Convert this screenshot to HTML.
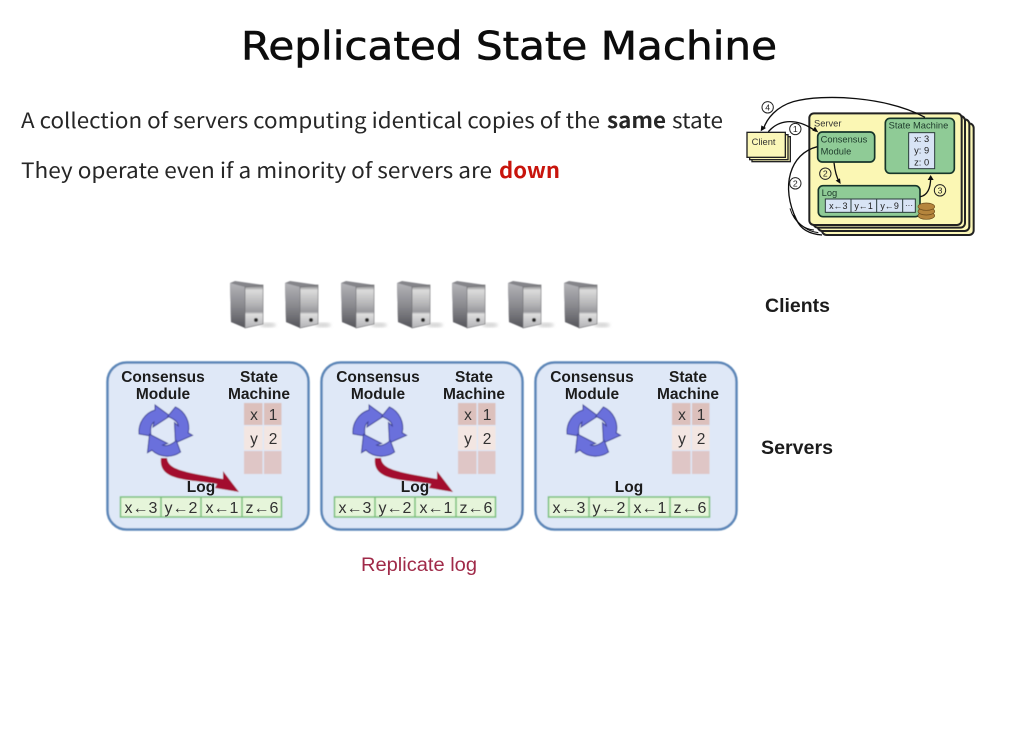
<!DOCTYPE html>
<html><head><meta charset="utf-8"><title>Replicated State Machine</title>
<style>html,body{margin:0;padding:0;background:#fff}svg{display:block}
.s{font-family:"Liberation Sans",sans-serif}
.b{font-family:"Liberation Sans",sans-serif;font-weight:bold;fill:#1c1c1c}
.d{font-family:"DejaVu Sans",sans-serif}
.o{font-family:"Noto Sans CJK JP","DejaVu Sans",sans-serif}</style></head>
<body>
<svg width="1024" height="747" viewBox="0 0 1024 747" xmlns="http://www.w3.org/2000/svg">
<defs>
<linearGradient id="sf" x1="0" y1="0" x2="0" y2="1"><stop offset="0" stop-color="#b4b4b8"/><stop offset=".5" stop-color="#8a8a8f"/><stop offset="1" stop-color="#55555a"/></linearGradient>
<linearGradient id="fr" x1="0" y1="0" x2="0" y2="1"><stop offset="0" stop-color="#6a6a6e"/><stop offset=".12" stop-color="#dcdcdc"/><stop offset=".45" stop-color="#b4b4b6"/><stop offset=".62" stop-color="#99999d"/><stop offset=".68" stop-color="#dedede"/><stop offset="1" stop-color="#b2b2b5"/></linearGradient>
<filter id="soft" x="-5%" y="-5%" width="110%" height="110%"><feGaussianBlur stdDeviation=".55"/></filter>
<filter id="lite" x="-5%" y="-5%" width="110%" height="110%"><feGaussianBlur stdDeviation=".3"/></filter>
<filter id="shad"><feGaussianBlur stdDeviation="1.5"/></filter>
<g id="srv">
<ellipse cx="38" cy="44" rx="8" ry="2.500" fill="#d4d4d4" filter="url(#shad)"/>
<path d="M0 2 L5 0 L33 4 L33 43 L16 47 L1 41Z" fill="#85858a"/>
<path d="M0 2 L15 6 L15 47 L1 41Z" fill="url(#sf)"/>
<path d="M15 6 L33 4 L33 43 L15 47Z" fill="url(#fr)" stroke="#6a6a6e" stroke-width=".6"/>
<circle cx="26" cy="39" r="2" fill="#2a2a2a"/>
</g>
<path id="arr" d="M-26 3 C-27 -8 -20 -18 -10 -21 L-10 -26 L5 -15 L-12 -4 L-11 -9 C-14 -7 -15 -2 -14 5Z" fill="#6a70dc" stroke="#3d4296" stroke-width="1"/>
<g id="cyc">
<use href="#arr"/><use href="#arr" transform="rotate(120)"/><use href="#arr" transform="rotate(240)"/>
</g>
<g id="panelbg">
<rect x="107.500" y="362.500" width="201" height="167" rx="19" fill="#dfe8f7" stroke="#5b86b8" stroke-width="2.500"/>
<rect x="244" y="403" width="18.500" height="22" fill="#dcc0bc"/><rect x="264" y="403" width="17.500" height="22" fill="#dcc0bc"/>
<rect x="244" y="426" width="18.500" height="24" fill="#f3e6e2"/><rect x="264" y="426" width="17.500" height="24" fill="#f3e6e2"/>
<rect x="244" y="451" width="18.500" height="23" fill="#dfc6c6"/><rect x="264" y="451" width="17.500" height="23" fill="#dfc6c6"/>
<rect x="120.500" y="497" width="161" height="20" fill="#e6f5da" stroke="#79c07a" stroke-width="1.500"/>
<path d="M161 497V517M201 497V517M242 497V517" stroke="#79c07a" stroke-width="1.500"/>
<use href="#cyc" transform="translate(165 431)"/>
</g>
<g id="red">
<path d="M161 458 L167 458 C168 470 185 472 223 479 L223 471 L239 492 L215 488 L217 484 C190 479 158 482 161 458Z" fill="#a30f2d"/>
</g>
</defs>

<text class="d" x="241" y="59.500" font-size="39" textLength="536" lengthAdjust="spacingAndGlyphs" fill="#0c0c0c" stroke="#0c0c0c" stroke-width=".6">Replicated State Machine</text>

<text class="o" x="21" y="128" font-size="21" textLength="579" lengthAdjust="spacingAndGlyphs" fill="#262626">A collection of servers computing identical copies of the</text>
<text class="o" x="607" y="128" font-size="21" font-weight="bold" textLength="59" lengthAdjust="spacingAndGlyphs" fill="#262626">same</text>
<text class="o" x="672" y="128" font-size="21" textLength="51" lengthAdjust="spacingAndGlyphs" fill="#262626">state</text>
<text class="o" x="21" y="178" font-size="21" textLength="471" lengthAdjust="spacingAndGlyphs" fill="#262626">They operate even if a minority of servers are</text>
<text class="o" x="499" y="178" font-size="21" font-weight="bold" textLength="61" lengthAdjust="spacingAndGlyphs" fill="#c8140c">down</text>

<!-- small diagram -->
<g transform="translate(740 90) scale(.33333)" filter="url(#soft)">
<rect x="246" y="100" width="455" height="335" rx="14" fill="#fbf7b8" stroke="#222" stroke-width="6"/>
<rect x="233" y="88" width="455" height="335" rx="14" fill="#fbf7b8" stroke="#222" stroke-width="6"/>
<rect x="220" y="78" width="455" height="335" rx="14" fill="#fbf7b8" stroke="#222" stroke-width="6"/>
<rect x="208" y="70" width="457" height="335" rx="14" fill="#fbf7b4" stroke="#222" stroke-width="6"/>
<rect x="36" y="140" width="115" height="75" fill="#fbf7b8" stroke="#222" stroke-width="4"/>
<rect x="29" y="134" width="115" height="75" fill="#fbf7b8" stroke="#222" stroke-width="4"/>
<rect x="21" y="127" width="115" height="75" fill="#fbf7b8" stroke="#222" stroke-width="4"/>
<text class="s" x="35" y="165" font-size="28" fill="#333">Client</text>
<text class="s" x="222" y="109" font-size="28" fill="#333">Server</text>
<rect x="233" y="126" width="171" height="90" rx="14" fill="#8fcb96" stroke="#16352a" stroke-width="5"/>
<text class="s" x="242" y="158" font-size="28" fill="#1f3a2c">Consensus</text>
<text class="s" x="242" y="194" font-size="28" fill="#1f3a2c">Module</text>
<rect x="436" y="85" width="207" height="165" rx="14" fill="#8fcb96" stroke="#16352a" stroke-width="5"/>
<text class="s" x="446" y="116" font-size="28" fill="#1f3a2c">State Machine</text>
<rect x="506" y="128" width="78" height="108" fill="#d8e4f5" stroke="#2a3a3a" stroke-width="3"/>
<text class="s" x="545" y="156" font-size="28" text-anchor="middle" fill="#222">x: 3</text>
<text class="s" x="545" y="191" font-size="28" text-anchor="middle" fill="#222">y: 9</text>
<text class="s" x="545" y="226" font-size="28" text-anchor="middle" fill="#222">z: 0</text>
<rect x="235" y="287" width="305" height="93" rx="14" fill="#8fcb96" stroke="#16352a" stroke-width="5"/>
<text class="s" x="245" y="318" font-size="28" fill="#1f3a2c">Log</text>
<rect x="256" y="327" width="270" height="40" fill="#d8e4f5" stroke="#2a3a3a" stroke-width="3"/>
<path d="M333 327V367M410 327V367M488 327V367" stroke="#2a3a3a" stroke-width="3"/>
<text class="s" x="295" y="357" font-size="27" text-anchor="middle" fill="#222">x←3</text>
<text class="s" x="371" y="357" font-size="27" text-anchor="middle" fill="#222">y←1</text>
<text class="s" x="449" y="357" font-size="27" text-anchor="middle" fill="#222">y←9</text>
<text class="s" x="507" y="354" font-size="24" text-anchor="middle" fill="#222">···</text>
<g fill="#b5853d" stroke="#6b4a1a" stroke-width="2">
<ellipse cx="559" cy="377" rx="25" ry="11"/><ellipse cx="559" cy="364" rx="25" ry="11"/><ellipse cx="559" cy="350" rx="25" ry="11"/>
</g>
<g fill="none" stroke="#111" stroke-width="4">
<path d="M555 82 C440 20 250 10 160 35 C110 50 80 85 70 118"/>
<path d="M85 125 C120 85 175 85 228 124"/>
<path d="M282 218 C285 245 290 262 298 276"/>
<path d="M232 170 C150 190 120 290 170 390 C185 425 220 433 246 435"/>
<path d="M150 355 C165 405 200 418 222 420" stroke-width="3"/>
<path d="M160 375 C175 405 205 425 235 428" stroke-width="3"/>
<path d="M541 320 C565 315 572 290 572 262"/>
</g>
<g fill="#111">
<path d="M62 124 L64 106 L78 114Z"/><path d="M235 127 L217 122 L225 110Z"/><path d="M302 282 L287 272 L300 265Z"/><path d="M572 255 L581 270 L563 270Z"/>
</g>
<g fill="none" stroke="#222" stroke-width="3">
<circle cx="83" cy="52" r="17"/><circle cx="166" cy="117" r="17"/><circle cx="256" cy="251" r="17"/><circle cx="166" cy="280" r="17"/><circle cx="600" cy="301" r="17"/>
</g>
<g class="s" font-size="26" text-anchor="middle" fill="#222">
<text x="83" y="61">4</text><text x="166" y="126">1</text><text x="256" y="260">2</text><text x="166" y="289">2</text><text x="600" y="310">3</text>
</g>
</g>

<!-- clients and panels -->
<g filter="url(#soft)">
<use href="#srv" x="230" y="281"/><use href="#srv" x="285" y="281"/><use href="#srv" x="341" y="281"/><use href="#srv" x="397" y="281"/><use href="#srv" x="452" y="281"/><use href="#srv" x="508" y="281"/><use href="#srv" x="564" y="281"/>
<use href="#panelbg"/><use href="#panelbg" x="214"/><use href="#panelbg" x="428"/>
<use href="#red"/><use href="#red" x="214"/>
</g>

<g filter="url(#lite)">
<g class="b" font-size="15.500" text-anchor="middle">
<text x="163" y="382">Consensus</text><text x="163" y="399">Module</text>
<text x="259" y="382">State</text><text x="259" y="399">Machine</text>
<text x="201" y="492">Log</text>
<text x="378" y="382">Consensus</text><text x="378" y="399">Module</text>
<text x="474" y="382">State</text><text x="474" y="399">Machine</text>
<text x="415" y="492">Log</text>
<text x="592" y="382">Consensus</text><text x="592" y="399">Module</text>
<text x="688" y="382">State</text><text x="688" y="399">Machine</text>
<text x="629" y="492">Log</text>
</g>
<g class="s" font-size="15.500" fill="#333" text-anchor="middle">
<text x="254" y="420">x</text><text x="273" y="420">1</text><text x="254" y="444">y</text><text x="273" y="444">2</text>
<text x="468" y="420">x</text><text x="487" y="420">1</text><text x="468" y="444">y</text><text x="487" y="444">2</text>
<text x="682" y="420">x</text><text x="701" y="420">1</text><text x="682" y="444">y</text><text x="701" y="444">2</text>
</g>
<g class="s" font-size="16" fill="#333" text-anchor="middle">
<text x="141" y="513">x←3</text><text x="181" y="513">y←2</text><text x="222" y="513">x←1</text><text x="262" y="513">z←6</text>
<text x="355" y="513">x←3</text><text x="395" y="513">y←2</text><text x="436" y="513">x←1</text><text x="476" y="513">z←6</text>
<text x="569" y="513">x←3</text><text x="609" y="513">y←2</text><text x="650" y="513">x←1</text><text x="690" y="513">z←6</text>
</g>
<text class="b" x="765" y="312" font-size="19" textLength="65" lengthAdjust="spacingAndGlyphs">Clients</text>
<text class="b" x="761" y="454" font-size="19" textLength="72" lengthAdjust="spacingAndGlyphs">Servers</text>
<text class="s" x="361" y="571" font-size="19" textLength="116" lengthAdjust="spacingAndGlyphs" fill="#a02c48">Replicate log</text>
</g>
</svg>
</body></html>
